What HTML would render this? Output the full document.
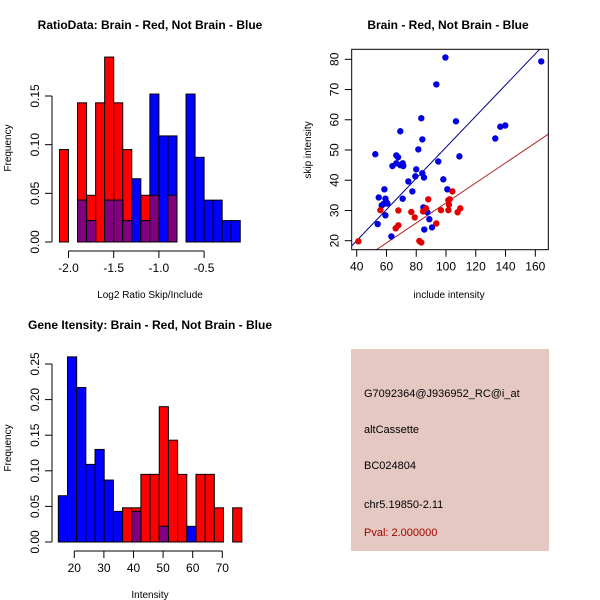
<!DOCTYPE html>
<html><head><meta charset="utf-8"><style>
body{margin:0;background:#fff}
svg{display:block;font-family:"Liberation Sans",sans-serif}
</style></head><body>
<svg id="svg" width="600" height="600" viewBox="0 0 600 600">
<rect width="600" height="600" fill="#fff"/>
<g id="p1"></g>
<g id="p2"></g>
<g id="p3"></g>
<g>
<rect x="351" y="349" width="198" height="202" fill="#E6C8C2"/>
<text x="364" y="397" font-size="11" fill="#000">G7092364@J936952_RC@i_at</text>
<text x="364" y="433" font-size="11" fill="#000">altCassette</text>
<text x="364" y="469" font-size="11" fill="#000">BC024804</text>
<text x="364" y="508" font-size="11" fill="#000">chr5.19850-2.11</text>
<text x="364" y="536" font-size="11" fill="#a00000">Pval: 2.000000</text>
</g>
</svg>
<script>
// ---- Plot 1 data: ratio histogram (bins of 0.1 starting at -2.1)
const ratioBinStart = -2.1;
const ratioBinWidth = 0.1;
const ratioRed = [0.095,0,0.143,0.048,0.143,0.19,0.143,0.095,0,0.048,0.048,0,0.048,0,0,0,0,0,0];
const ratioBlue = [0,0,0.043,0.022,0,0.043,0.043,0.022,0.065,0.022,0.152,0.109,0.109,0,0.152,0.087,0.043,0.043,0.022,0.022];
const ratioXTicks = [-2.0,-1.5,-1.0,-0.5];
const ratioXLabels = ["-2.0","-1.5","-1.0","-0.5"];
const ratioYTicks = [0,0.05,0.10,0.15];
const ratioYLabels = ["0.00","0.05","0.10","0.15"];
// ---- Plot 3 data: gene intensity histogram
const intBinStart = 14.6;
const intBinWidth = 3.1;
const intBlue = [0.065,0.26,0.217,0.109,0.13,0.087,0.043,0,0.043,0,0,0.022,0,0,0.022,0,0,0,0,0];
const intRed = [0,0,0,0,0,0,0,0.048,0.048,0.095,0.095,0.19,0.143,0.095,0,0.095,0.095,0.048,0,0.048];
const intXTicks = [20,30,40,50,60,70];
const intYTicks = [0,0.05,0.10,0.15,0.20,0.25];
const intYLabels = ["0.00","0.05","0.10","0.15","0.20","0.25"];
// ---- Plot 2 data: scatter
const blueX = [99.6,93.5,164,106.7,83.4,84.1,69.3,52.5,81.4,66.6,67.8,109,94.8,66.6,64,69.3,70.9,71.3,80,84.1,79.4,85.2,98.2,74.7,100.9,77.4,58.6,54.8,59.3,70.9,59.7,57.9,60.6,56.8,59.3,84.8,87.5,88.8,54.1,90.6,85.4,63.3,133.1,136.5,139.8];
const blueY = [80.6,71.7,79.3,59.5,60.5,53.5,56.2,48.6,50.2,48.2,47.6,47.9,46.2,45.6,44.7,45,45.6,44.7,43.6,42.3,41.3,40.9,40.3,39.6,37,36.3,37,34.3,33.9,33.9,32.9,32.1,32.3,31.7,28.4,31,29.4,27.1,25.5,24.4,23.7,21.4,53.8,57.7,58.1];
const redX = [41.1,55.9,68,76.7,79,66.2,68,82.1,83.4,84.6,86.6,88.1,93.5,96.6,101.6,102,101.6,102.5,104.3,107.8,109.6];
const redY = [19.8,30.1,30,29.5,27.7,24.1,25.1,19.9,19.4,29.7,30.7,33.7,25.7,30.1,30.1,31.9,33.4,33.7,36.3,29.4,30.7];
const blueFit = [0.515,-0.6]; // slope, intercept
const redFit = [0.331,-0.6];
const scXTicks = [40,60,80,100,120,140,160];
const scYTicks = [20,30,40,50,60,70,80];

const NS="http://www.w3.org/2000/svg";
function mk(parent,tag,attrs){const e=document.createElementNS(NS,tag);for(const k in attrs)e.setAttribute(k,attrs[k]);parent.appendChild(e);return e;}
function txt(parent,x,y,s,attrs){const e=mk(parent,'text',Object.assign({x:x,y:y,'font-size':12,fill:'#000'},attrs||{}));e.textContent=s;return e;}

function histogram(g,o){
  const sx=v=>o.x0+(v-o.d0)*o.kx, sy=v=>o.y0-v*o.ky;
  const n=Math.max(o.red.length,o.blue.length);
  const layers=[['red','#ff0000',i=>o.red[i]||0],['blue','#0000ff',i=>o.blue[i]||0],['overlap','#800080',i=>Math.min(o.red[i]||0,o.blue[i]||0)]];
  for(const [nm,col,f] of layers){
    for(let i=0;i<n;i++){const v=f(i);if(!v)continue;
      const a=o.start+i*o.w,x1=sx(a),x2=sx(a+o.w);
      const r=mk(g,'rect',{x:x1,y:sy(v),width:x2-x1,height:o.y0-sy(v),fill:col,stroke:'#000','stroke-width':1});
      
      
    }
  }
  const ya=mk(g,'g',{});
  
  
  const yt=o.yTicks;
  mk(ya,'line',{x1:o.ax,x2:o.ax,y1:sy(yt[0]),y2:sy(yt[yt.length-1]),stroke:'#000'});
  yt.forEach((v,i)=>{mk(ya,'line',{x1:o.ax-7,x2:o.ax,y1:sy(v),y2:sy(v),stroke:'#000'});
    txt(ya,0,0,o.yLabels[i],{transform:`translate(${o.ax-13},${sy(v)}) rotate(-90)`,'text-anchor':'middle'});});
  const xa=mk(g,'g',{});
  
  
  const xt=o.xTicks;
  mk(xa,'line',{x1:sx(xt[0]),x2:sx(xt[xt.length-1]),y1:o.xay,y2:o.xay,stroke:'#000'});
  xt.forEach((v,i)=>{mk(xa,'line',{x1:sx(v),x2:sx(v),y1:o.xay,y2:o.xay+7,stroke:'#000'});
    txt(xa,sx(v),o.xay+21,o.xLabels[i],{'text-anchor':'middle'});});
}

// Plot 1
const g1=document.getElementById('p1');
histogram(g1,{x0:68.5,d0:-2.0,kx:90.4,y0:242,ky:973.3,start:ratioBinStart,w:ratioBinWidth,red:ratioRed,blue:ratioBlue,
  xTicks:ratioXTicks,xLabels:ratioXLabels,yTicks:ratioYTicks,yLabels:ratioYLabels,ax:52,xay:251});
let t=txt(g1,150,29,'RatioData: Brain - Red, Not Brain - Blue',{'text-anchor':'middle','font-weight':'bold','font-size':12});

t=txt(g1,150,298,'Log2 Ratio Skip/Include',{'text-anchor':'middle','font-size':10});

t=txt(g1,0,0,'Frequency',{transform:'translate(11,148) rotate(-90)','text-anchor':'middle','font-size':10});


// Plot 3
const g3=document.getElementById('p3');
histogram(g3,{x0:74.3,d0:20,kx:2.96,y0:542,ky:712,start:intBinStart,w:intBinWidth,red:intRed,blue:intBlue,
  xTicks:intXTicks,xLabels:intXTicks.map(String),yTicks:intYTicks,yLabels:intYLabels,ax:52,xay:551});
t=txt(g3,150,329,'Gene Itensity: Brain - Red, Not Brain - Blue',{'text-anchor':'middle','font-weight':'bold','font-size':12});

t=txt(g3,150,598,'Intensity',{'text-anchor':'middle','font-size':10});

t=txt(g3,0,0,'Frequency',{transform:'translate(11,448) rotate(-90)','text-anchor':'middle','font-size':10});


// Plot 2
const g2=document.getElementById('p2');
const X0=351.7,X1=548.3,Y0=49.3,Y1=249.7;
const sx=v=>356.7+(v-40)*1.4883, sy=v=>240.7-(v-20)*3.0233;
const inv=px=>40+(px-356.7)/1.4883;
mk(g2,'defs',{}).innerHTML='<clipPath id="clip2"><rect x="'+X0+'" y="'+Y0+'" width="'+(X1-X0)+'" height="'+(Y1-Y0)+'"/></clipPath>';
const lines=mk(g2,'g',{'clip-path':'url(#clip2)'});
[[blueFit,'#00008b','blue-fit-line'],[redFit,'#b22222','red-fit-line']].forEach(([f,c,n])=>{
  const a=inv(X0),b=inv(X1);
  const l=mk(lines,'line',{x1:sx(a),y1:sy(f[0]*a+f[1]),x2:sx(b),y2:sy(f[0]*b+f[1]),stroke:c,'stroke-width':1});
  
  
});
blueX.forEach((x,i)=>{const c=mk(g2,'circle',{cx:sx(x),cy:sy(blueY[i]),r:3.2,fill:'#0000e0'});
  
  });
redX.forEach((x,i)=>{const c=mk(g2,'circle',{cx:sx(x),cy:sy(redY[i]),r:3.2,fill:'#e00000'});
  
  });
mk(g2,'rect',{x:X0,y:Y0,width:X1-X0,height:Y1-Y0,fill:'none',stroke:'#000'});
scXTicks.forEach(v=>{mk(g2,'line',{x1:sx(v),x2:sx(v),y1:Y1,y2:Y1+7,stroke:'#000'});txt(g2,sx(v),Y1+21,String(v),{'text-anchor':'middle'});});
scYTicks.forEach(v=>{mk(g2,'line',{x1:X0-7,x2:X0,y1:sy(v),y2:sy(v),stroke:'#000'});
  txt(g2,0,0,String(v),{transform:`translate(${X0-13},${sy(v)}) rotate(-90)`,'text-anchor':'middle'});});
t=txt(g2,448,29,'Brain - Red, Not Brain - Blue',{'text-anchor':'middle','font-weight':'bold','font-size':12});

t=txt(g2,449,298,'include intensity',{'text-anchor':'middle','font-size':10});

t=txt(g2,0,0,'skip intensity',{transform:'translate(311,150) rotate(-90)','text-anchor':'middle','font-size':10});

</script>
</body></html>
